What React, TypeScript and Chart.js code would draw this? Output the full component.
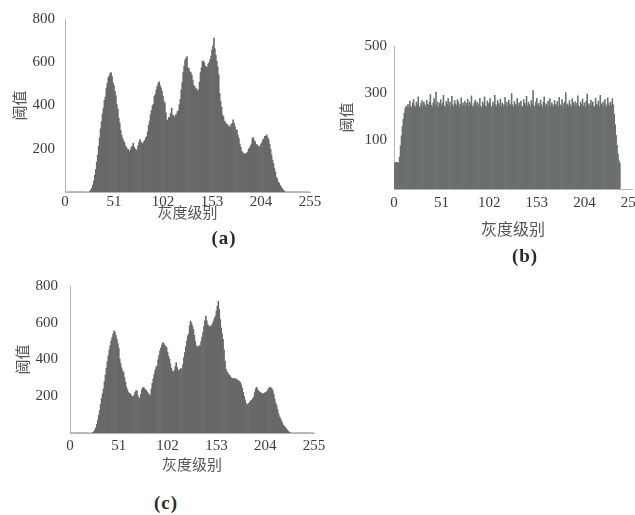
import React, { useEffect, useRef } from 'react';
import { Chart, registerables } from 'chart.js';

Chart.register(...registerables);

// ---- data ----
const grayLevels: number[] = Array.from({ length: 256 }, (_, i) => i);
const xTicks = [0, 51, 102, 153, 204, 255];
const yTicksA = [200, 400, 600, 800];
const yTicksB = [100, 300, 500];
const yTicksC = [200, 400, 600, 800];
const xTitle = '灰度级别';
const yTitle = '阈值';
const panelLabels = ['(a)', '(b)', '(c)'];

// (a) original histogram
const histA: number[] = [
  0, 0, 0, 0, 0, 0, 0, 0, 0, 0, 0, 0, 0, 0, 0, 0, 0, 0, 0, 0, 0, 0, 0, 0, 0, 0,
  4, 10, 18, 32, 50, 78, 104, 138, 170, 212, 250, 292, 326, 362, 388, 424, 440, 478, 502, 528,
  536, 548, 552, 534, 505, 492, 466, 446, 404, 384, 342, 318, 286, 262, 248, 236, 228, 212, 206, 198,
  196, 186, 194, 206, 212, 226, 208, 198, 196, 188, 212, 228, 242, 232, 226, 220, 232, 238, 250, 256,
  278, 308, 328, 358, 378, 398, 406, 442, 452, 472, 488, 502, 510, 492, 482, 466, 444, 418, 410, 366,
  334, 332, 344, 346, 364, 388, 356, 352, 344, 356, 358, 372, 376, 404, 428, 472, 506, 552, 582, 610,
  618, 626, 574, 572, 556, 552, 542, 518, 492, 488, 476, 478, 466, 472, 508, 552, 574, 604, 606, 598,
  582, 578, 576, 592, 598, 612, 628, 656, 676, 712, 662, 632, 604, 578, 542, 456, 418, 392, 356, 348,
  328, 322, 314, 312, 302, 306, 298, 312, 318, 334, 318, 302, 288, 286, 262, 248, 222, 206, 188, 182,
  176, 178, 174, 180, 184, 198, 202, 212, 222, 248, 252, 238, 232, 220, 218, 208, 212, 206, 222, 228,
  242, 246, 258, 258, 264, 252, 242, 220, 198, 172, 148, 132, 108, 92, 68, 60, 46, 40, 30, 24,
  16, 10, 5, 2,
  0, 0, 0, 0, 0, 0, 0, 0, 0, 0, 0, 0, 0, 0, 0, 0, 0, 0, 0, 0, 0, 0, 0, 0, 0, 0,
];

// (b) equalized histogram
const histB: (number | null)[] = [
  3, 4, 2, 5, 4, 3, 28, 76, 118, 158, 188, 214, 234, 244, 240,
  252, 238, 266, 244, 236, 258, 272, 246, 240, 262, 250, 284, 242, 238, 256, 268, 244, 262, 250, 240,
  270, 252, 246, 262, 294, 248, 240, 258, 276, 250, 304, 244, 262, 240, 256, 272, 248, 258, 290, 246,
  240, 264, 252, 278, 246, 262, 244, 286, 250, 240, 268, 254, 246, 272, 262, 240, 252, 280, 244, 258,
  248, 266, 240, 256, 274, 244, 262, 250, 288, 246, 240, 258, 270, 248, 262, 242, 254, 278, 244, 236,
  262, 250, 284, 246, 240, 266, 252, 258, 276, 244, 240, 262, 248, 290, 250, 242, 268, 256, 246, 274,
  244, 258, 240, 252, 282, 248, 262, 240, 270, 254, 246, 298, 250, 240, 264, 252, 246, 276, 242, 258,
  250, 266, 244, 240, 272, 256, 248, 286, 244, 262, 250, 240, 268, 254, 310, 246, 240, 262, 278, 248,
  256, 244, 270, 250, 240, 262, 284, 246, 254, 240, 266, 248, 276, 242, 258, 250, 240, 268, 252, 246,
  264, 240, 282, 250, 244, 272, 256, 240, 262, 302, 248, 254, 244, 268, 250, 240, 276, 258, 246, 264,
  242, 256, 288, 246, 240, 262, 250, 274, 244, 258, 240, 266, 296, 248, 254, 242, 270, 250, 262, 244,
  240, 278, 252, 246, 266, 240, 290, 254, 248, 262, 244, 272, 250, 240, 280, 256, 244, 262, 248, 276,
  250, 210, 165, 120, 78, 40, 12, 2,
  null, null, null, null, null, null, null, null, null, null, null, null, null,
];

// (c) restored histogram
const histC: number[] = [
  0, 0, 0, 0, 0, 0, 0, 0, 0, 0, 0, 0, 0, 0, 0, 0, 0, 0, 0, 0, 0, 0, 0, 0,
  3, 8, 16, 28, 46, 70, 96, 122, 156, 188, 214, 240, 278, 316, 352, 388, 420, 452, 476, 500,
  519, 538, 556, 548, 530, 510, 486, 462, 402, 378, 354, 338, 330, 302, 276, 249, 236, 222, 216, 213,
  204, 198, 195, 206, 222, 231, 228, 204, 192, 186, 210, 236, 246, 249, 240, 234, 231, 222, 214, 208,
  204, 240, 270, 294, 318, 342, 358, 366, 398, 422, 447, 462, 478, 492, 486, 478, 470, 465, 440, 418,
  402, 376, 352, 336, 330, 340, 362, 384, 356, 339, 342, 346, 350, 348, 372, 410, 438, 470, 500, 528,
  539, 584, 609, 598, 582, 564, 532, 498, 474, 470, 468, 476, 474, 498, 522, 546, 580, 612, 636, 610,
  590, 582, 578, 584, 582, 596, 610, 624, 636, 664, 690, 717, 672, 618, 572, 540, 510, 452, 392, 348,
  334, 326, 318, 312, 304, 298, 296, 294, 298, 290, 294, 288, 284, 280, 276, 262, 244, 222, 200, 180,
  162, 150, 156, 162, 168, 176, 180, 186, 196, 220, 240, 249, 238, 228, 224, 222, 216, 214, 213, 216,
  220, 222, 228, 236, 244, 249, 246, 240, 231, 210, 184, 162, 150, 128, 104, 88, 78, 66, 54, 42,
  36, 30, 24, 16, 10, 5, 2,
  0, 0, 0, 0, 0, 0, 0, 0, 0, 0, 0, 0, 0, 0, 0, 0, 0, 0, 0, 0, 0, 0, 0, 0, 0,
];

const SERIF = '"Liberation Serif", "Noto Sans CJK SC", serif';
const CJK = '"Noto Sans CJK SC", sans-serif';

type Panel = {
  w: number;
  h: number;
  pad: { left: number; top: number; right: number; bottom: number };
  yWidth: number;
  xHeight: number;
  yMin: number;
  yMax: number;
  yTicks: number[];
  data: (number | null)[];
  color: string;
  xTickPad: number;
  yTickPad: number;
  yTitleSize: number;
  xTitleSize: number;
  base?: number;
};

function buildConfig(p: Panel): any {
  const points = grayLevels
    .map((x, i) => ({ x, y: p.data[i] }))
    .filter((d) => d.y !== null && d.y !== undefined);
  const dataset: any = {
    type: 'bar',
    data: points,
    backgroundColor: p.color,
    borderWidth: 0,
    barPercentage: 1,
    categoryPercentage: 1,
  };
  if (p.base !== undefined) dataset.base = p.base;
  return {
    type: 'bar',
    data: { datasets: [dataset] },
    options: {
      responsive: false,
      animation: false,
      devicePixelRatio: 1,
      events: [],
      layout: { padding: p.pad },
      plugins: { legend: { display: false }, tooltip: { enabled: false }, title: { display: false } },
      scales: {
        x: {
          type: 'linear',
          min: 0,
          max: 255,
          offset: false,
          grid: { display: false, drawTicks: false },
          border: { display: true, color: '#b4b4b4', width: 1 },
          afterBuildTicks: (s: any) => {
            s.ticks = xTicks.map((v) => ({ value: v }));
          },
          afterFit: (s: any) => {
            s.height = p.xHeight;
          },
          ticks: {
            color: '#3c3c3c',
            padding: p.xTickPad,
            maxRotation: 0,
            autoSkip: false,
            font: { family: SERIF, size: 15 },
          },
          title: {
            display: true,
            text: xTitle,
            color: '#555555',
            padding: { top: 0, bottom: 0 },
            font: { family: CJK, size: p.xTitleSize },
          },
        },
        y: {
          type: 'linear',
          min: p.yMin,
          max: p.yMax,
          grid: { display: false, drawTicks: false },
          border: { display: true, color: '#b4b4b4', width: 1 },
          afterBuildTicks: (s: any) => {
            s.ticks = p.yTicks.map((v) => ({ value: v }));
          },
          afterFit: (s: any) => {
            s.width = p.yWidth;
          },
          ticks: {
            color: '#3c3c3c',
            padding: p.yTickPad,
            font: { family: SERIF, size: 15 },
          },
          title: {
            display: true,
            text: yTitle,
            color: '#555555',
            padding: { top: 4, bottom: 4 },
            font: { family: CJK, size: p.yTitleSize },
          },
        },
      },
    },
  };
}

const panelA: Panel = {
  w: 330, h: 235,
  pad: { left: 6, top: 19, right: 20, bottom: 14 },
  yWidth: 59, xHeight: 29,
  yMin: 0, yMax: 800, yTicks: yTicksA, data: histA, color: '#686868',
  xTickPad: 1, yTickPad: 10, yTitleSize: 15, xTitleSize: 15,
};
const panelB: Panel = {
  w: 330, h: 230,
  pad: { left: 3, top: 16, right: 28, bottom: 21 },
  yWidth: 61, xHeight: 50,
  yMin: -108, yMax: 500, yTicks: yTicksB, data: histB, color: '#6a6f6c',
  xTickPad: 5, yTickPad: 7, yTitleSize: 15, xTitleSize: 16, base: -108,
};
const panelC: Panel = {
  w: 340, h: 225,
  pad: { left: 9, top: 20, right: 26, bottom: 17 },
  yWidth: 61, xHeight: 40,
  yMin: 0, yMax: 800, yTicks: yTicksC, data: histC, color: '#686868',
  xTickPad: 4, yTickPad: 12, yTitleSize: 15, xTitleSize: 15,
};

function HistCanvas({ panel, left, top }: { panel: Panel; left: number; top: number }) {
  const ref = useRef<HTMLCanvasElement | null>(null);
  useEffect(() => {
    if (!ref.current) return;
    const chart = new Chart(ref.current, buildConfig(panel));
    return () => chart.destroy();
  }, [panel]);
  return (
    <canvas
      ref={ref}
      width={panel.w}
      height={panel.h}
      style={{ position: 'absolute', left, top, width: panel.w, height: panel.h, display: 'block' }}
    />
  );
}

function PanelLabel({ text, cx, cy }: { text: string; cx: number; cy: number }) {
  return (
    <div
      style={{
        position: 'absolute',
        left: cx - 30,
        top: cy - 12,
        width: 60,
        height: 24,
        lineHeight: '24px',
        textAlign: 'center',
        fontFamily: SERIF,
        fontWeight: 'bold',
        fontSize: 19,
        letterSpacing: 1,
        color: '#2a2a2a',
      }}
    >
      {text}
    </div>
  );
}

export default function App() {
  return (
    <div
      style={{
        position: 'absolute',
        left: 0,
        top: 0,
        width: 635,
        height: 515,
        overflow: 'hidden',
        background: '#ffffff',
      }}
    >
      <HistCanvas panel={panelA} left={0} top={0} />
      <HistCanvas panel={panelB} left={330} top={30} />
      <HistCanvas panel={panelC} left={0} top={265} />
      <PanelLabel text={panelLabels[0]} cx={224} cy={238} />
      <PanelLabel text={panelLabels[1]} cx={525} cy={256} />
      <PanelLabel text={panelLabels[2]} cx={166} cy={503} />
    </div>
  );
}
